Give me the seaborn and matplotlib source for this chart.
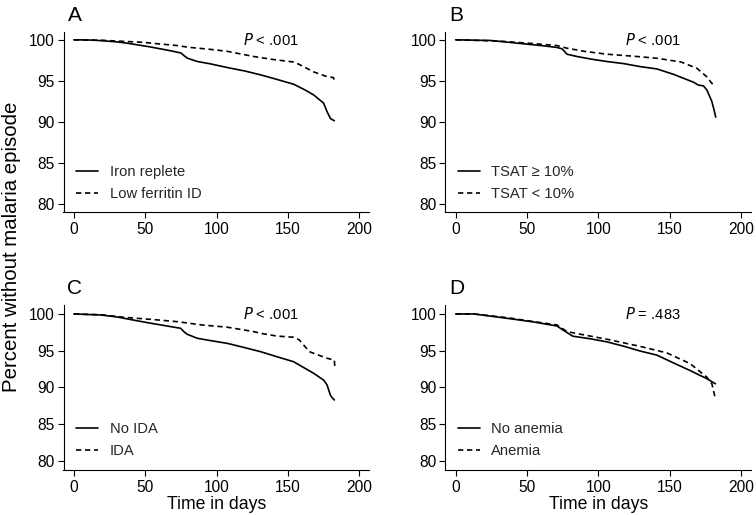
import numpy as np
import pandas as pd
import matplotlib
matplotlib.use("Agg")
import matplotlib.pyplot as plt
from matplotlib.lines import Line2D
import seaborn as sns

sns.set_theme(style="ticks")
plt.rcParams["font.family"] = ["Liberation Sans", "DejaVu Sans"]

# ---------------- data ----------------
panel_letters = ["A", "B", "C", "D"]
p_values = ["< .001", "< .001", "< .001", "= .483"]

groupA = ["Iron replete", "Low ferritin ID"]
A_solid_day = [0, 10, 19, 30, 37, 53, 68, 75, 77, 79.5, 86.5, 95, 107.5, 120, 131, 142, 154, 162, 168, 175, 177.4, 179.7, 181, 182.5]
A_solid_pct = [100, 99.98, 99.9, 99.75, 99.6, 99.15, 98.66, 98.4, 98.1, 97.77, 97.36, 97.1, 96.63, 96.2, 95.73, 95.2, 94.6, 93.9, 93.3, 92.3, 91.26, 90.45, 90.3, 90.16]
A_dash_day = [0, 19, 30, 48, 60, 72.5, 80, 95, 107.5, 126, 140, 154, 158, 168, 176, 182, 182.5]
A_dash_pct = [100, 99.95, 99.85, 99.7, 99.5, 99.3, 99.1, 98.85, 98.6, 97.97, 97.6, 97.3, 97.0, 96.1, 95.6, 95.4, 94.84]

groupB = ["TSAT \u2265 10%", "TSAT < 10%"]
B_solid_day = [0, 24.5, 47.8, 60, 71, 74.6, 78, 85, 95, 106, 118, 129, 141, 152.7, 160, 166.7, 170, 173.6, 176, 179.5, 181, 182.2]
B_solid_pct = [100, 99.92, 99.51, 99.3, 99.07, 98.9, 98.25, 97.97, 97.65, 97.36, 97.1, 96.75, 96.46, 95.8, 95.3, 94.84, 94.5, 94.4, 93.9, 92.5, 91.5, 90.6]
B_dash_day = [0, 30, 50, 71, 78, 90, 106, 125, 141, 158, 169, 176, 179.5, 182.5]
B_dash_pct = [100, 99.85, 99.6, 99.3, 98.98, 98.6, 98.25, 98.0, 97.76, 97.3, 96.54, 95.5, 94.7, 94.6]

groupC = ["No IDA", "IDA"]
C_solid_day = [0, 18.9, 30, 45, 55, 67.8, 74.8, 77, 79.5, 86.5, 95, 107.5, 118, 130.8, 142, 154, 162, 168, 175, 177.4, 179.7, 181, 182.5]
C_solid_pct = [100, 99.86, 99.6, 99.05, 98.7, 98.28, 98.05, 97.6, 97.23, 96.69, 96.4, 96.0, 95.5, 94.87, 94.2, 93.5, 92.6, 91.93, 91.0, 90.34, 88.98, 88.6, 88.3]
C_dash_day = [0, 18.9, 35, 55, 72.5, 90, 107.5, 126, 130.8, 142, 154, 158, 165, 177.4, 182.5, 182.8]
C_dash_pct = [100, 99.9, 99.55, 99.25, 98.95, 98.5, 98.2, 97.6, 97.37, 97.0, 96.83, 96.46, 94.87, 93.97, 93.74, 92.83]

groupD = ["No anemia", "Anemia"]
D_solid_day = [0, 12.8, 36, 55, 71, 75.3, 82, 95, 106, 118, 129, 141, 152.7, 164.3, 176, 182]
D_solid_pct = [100, 100, 99.41, 98.9, 98.36, 97.8, 96.98, 96.6, 96.2, 95.6, 94.97, 94.4, 93.33, 92.3, 91.19, 90.5]
D_dash_day = [0, 12.8, 36, 55, 71, 78, 87.5, 106, 129, 148, 164.3, 176, 179.5, 182]
D_dash_pct = [100, 100, 99.5, 98.95, 98.5, 97.6, 97.24, 96.56, 95.6, 94.7, 93.24, 91.4, 90.5, 88.46]

x_ticks = [0, 50, 100, 150, 200]
y_ticks = [80, 85, 90, 95, 100]

panels = [
    (groupA, A_solid_day, A_solid_pct, A_dash_day, A_dash_pct),
    (groupB, B_solid_day, B_solid_pct, B_dash_day, B_dash_pct),
    (groupC, C_solid_day, C_solid_pct, C_dash_day, C_dash_pct),
    (groupD, D_solid_day, D_solid_pct, D_dash_day, D_dash_pct),
]

# ---------------- figure ----------------
W, H = 756, 515
fig = plt.figure(figsize=(W / 100, H / 100), dpi=100)

def px_axes(left, top, width, height):
    return fig.add_axes([left / W, 1 - (top + height) / H, width / W, height / H])

xlim = (-7.3, 207.0)
ax_w = 305.8
# (left, top, height, ylim)
layout = [
    (63.5, 32.0, 180.3, (79.03, 100.95)),
    (445.3, 32.0, 180.3, (79.03, 100.95)),
    (63.5, 305.0, 165.3, (78.73, 101.22)),
    (445.3, 305.0, 165.3, (78.73, 101.22)),
]

dash_style = (0, (3.2, 2.2))
fs_tick = 11.2
fs_leg = 10.6

for i, (grp, sd, sp, dd, dp) in enumerate(panels):
    left, top, h, ylim = layout[i]
    ax = px_axes(left, top, ax_w, h)
    df_s = pd.DataFrame({"day": sd, "pct": sp})
    df_d = pd.DataFrame({"day": dd, "pct": dp})
    sns.lineplot(data=df_s, x="day", y="pct", ax=ax, color="black", lw=1.2,
                 errorbar=None, sort=False, estimator=None)
    sns.lineplot(data=df_d, x="day", y="pct", ax=ax, color="black", lw=1.2,
                 linestyle=dash_style, errorbar=None, sort=False, estimator=None)
    ax.set_xlim(*xlim)
    ax.set_ylim(*ylim)
    ax.set_xticks(x_ticks)
    ax.set_yticks(y_ticks)
    ax.set_xticklabels([str(t) for t in x_ticks])
    ax.set_yticklabels([str(t) for t in y_ticks])
    ax.tick_params(axis="both", direction="out", length=4.6, width=0.8,
                   color="black", labelsize=fs_tick, labelcolor="black")
    ax.tick_params(axis="y", pad=2.0)
    ax.tick_params(axis="x", pad=2.5)
    for s in ["top", "right"]:
        ax.spines[s].set_visible(False)
    for s in ["left", "bottom"]:
        ax.spines[s].set_color("black")
        ax.spines[s].set_linewidth(0.8)
    ax.set_ylabel("")
    if i >= 2:
        ax.set_xlabel("Time in days", fontsize=12.7, labelpad=0.5, color="black")
    else:
        ax.set_xlabel("")
    ax.set_facecolor("white")

    # p-value
    ax.text(138, 100, r"$\it{P}$ " + p_values[i], ha="center", va="center",
            fontsize=fs_leg, color="black")

    # legend
    handles = [Line2D([], [], color="black", lw=1.2),
               Line2D([], [], color="black", lw=1.2, linestyle=dash_style)]
    yb = 0.06 if i < 2 else 0.075
    ax.legend(handles, grp, loc="lower left", bbox_to_anchor=(0.04, yb),
              frameon=False, fontsize=fs_leg, handlelength=1.5,
              handletextpad=0.8, labelspacing=0.55, borderpad=0,
              borderaxespad=0)

    # panel letter
    fig.text((left + 4.0) / W, 1 - (top - 11) / H, panel_letters[i],
             fontsize=15, ha="left", va="baseline", color="black")

fig.text(12 / W, 1 - 247 / H, "Percent without malaria episode", rotation=90,
         ha="center", va="center", fontsize=14.7, color="black")

fig.savefig("out.png", dpi=100, facecolor="white")
